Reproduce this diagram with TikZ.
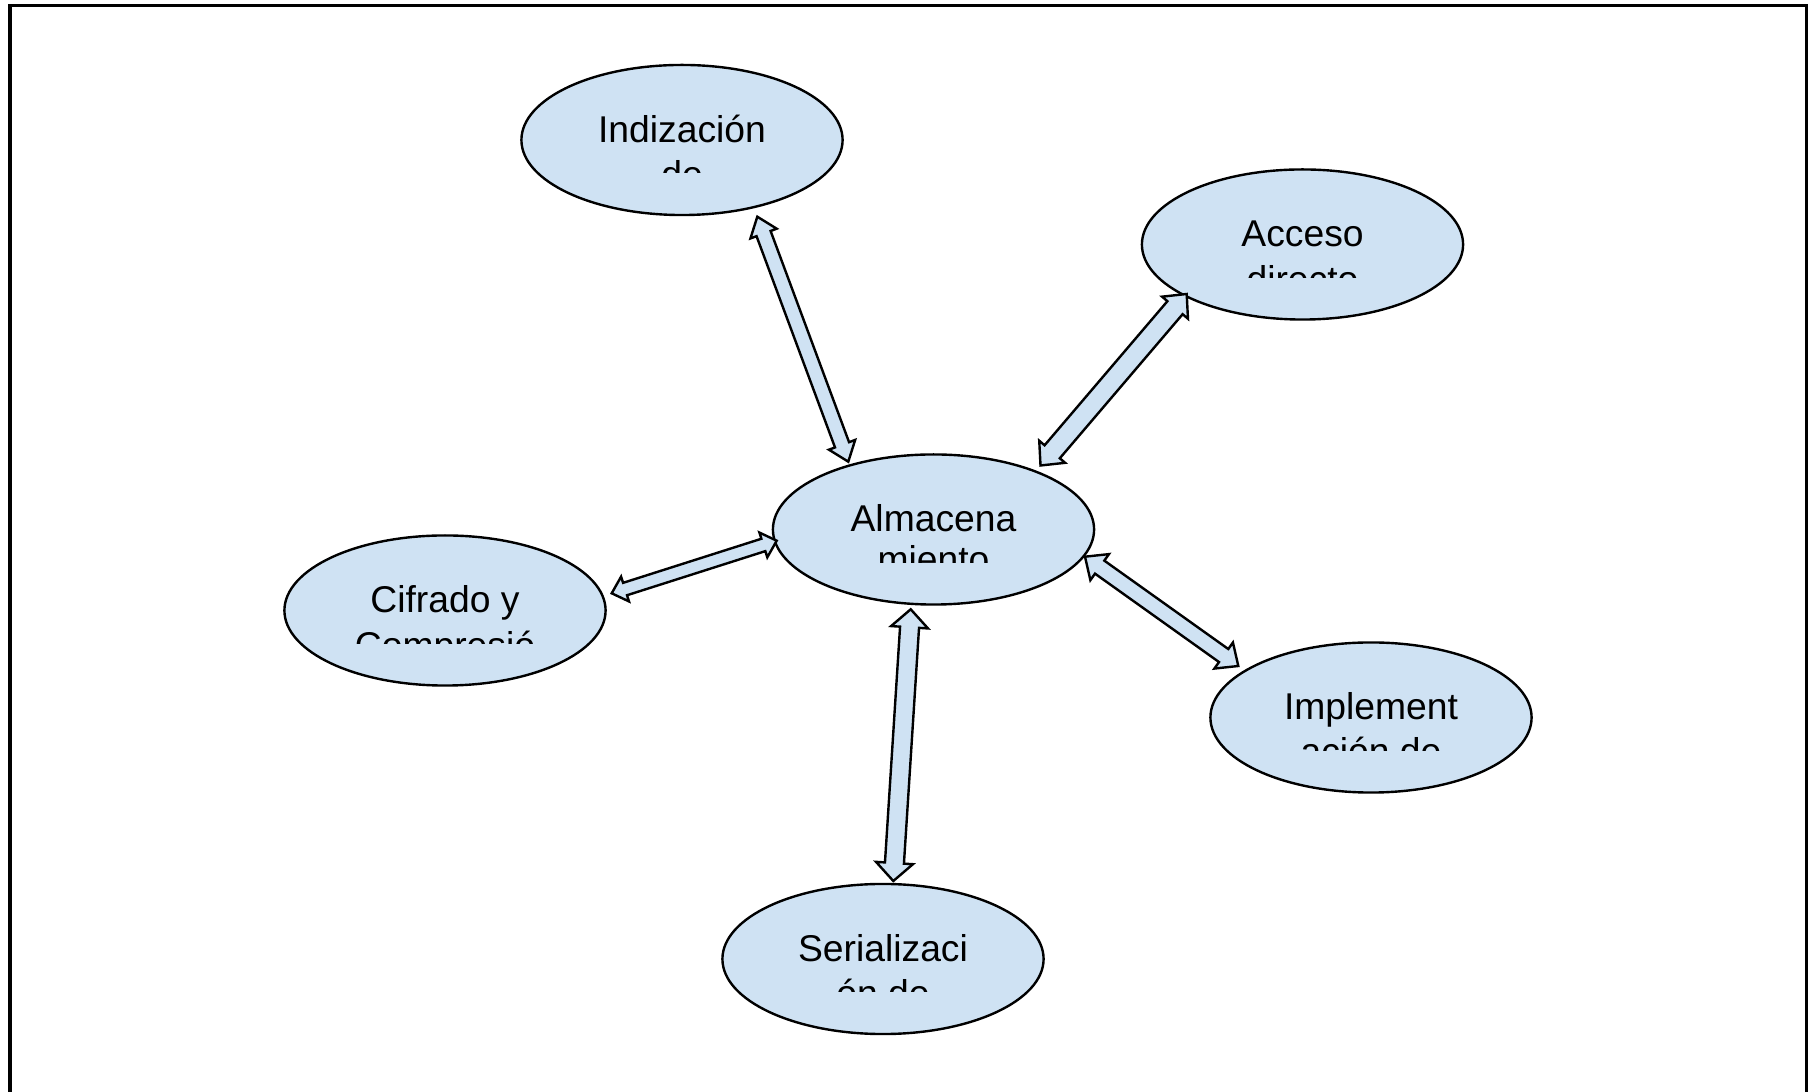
\documentclass[tikz,border=0pt]{standalone}
\usepackage{fontspec}
\setmainfont{Liberation Sans}
\usetikzlibrary{calc,shapes.geometric}
\definecolor{bubble}{HTML}{CFE2F3}
\newcommand\blkarrow[5]{%
  \filldraw[arrowbox] (#1)
    -- ($(#1)!#5!(#2)!#4!90:(#2)$) -- ($(#1)!#5!(#2)!#3!90:(#2)$)
    -- ($(#2)!#5!(#1)!#3!-90:(#1)$) -- ($(#2)!#5!(#1)!#4!-90:(#1)$)
    -- (#2)
    -- ($(#2)!#5!(#1)!#4!90:(#1)$) -- ($(#2)!#5!(#1)!#3!90:(#1)$)
    -- ($(#1)!#5!(#2)!#3!-90:(#2)$) -- ($(#1)!#5!(#2)!#4!-90:(#2)$)
    -- cycle;}
\newcommand\bubbletext[4]{% name, first line, second line, second-line offset
  \begin{scope}
    \clip ($(#1)+(-155,-60)$) rectangle ($(#1)+(155,33)$);
    \node[lbl] (#1-t1) at ($(#1)+(0,2.5)$) {#2};
    \node[lbl] (#1-t2) at ($(#1)+(0,2.5+#4)$) {#3};
  \end{scope}}
\begin{document}
\begin{tikzpicture}[x=0.01cm,y=-0.01cm,
  bubble/.style={ellipse,draw=black,line width=0.024cm,fill=bubble,inner sep=0pt,
    minimum width=3.21cm,minimum height=1.50cm},
  lbl/.style={anchor=base,inner sep=0pt,font=\fontsize{10.6}{12}\selectfont},
  arrowbox/.style={draw=black,fill=bubble,line width=0.024cm,line join=miter},
  frame/.style={draw=black,line width=0.03cm}]
\useasboundingbox (0,0) rectangle (1812,1092);
\draw[frame] (10,1095) -- (10,6) -- (1806.5,6) -- (1806.5,1095);

\node[bubble] (ind) at (682,140) {};
\node[bubble] (acc) at (1302.5,244.5) {};
\node[bubble] (alm) at (933.5,529.5) {};
\node[bubble] (cif) at (445,610.5) {};
\node[bubble] (imp) at (1371,717.5) {};
\node[bubble] (ser) at (883,959) {};

\bubbletext{ind}{Indización}{de}{45}
\bubbletext{acc}{Acceso}{directo}{46}
\bubbletext{alm}{Almacena}{miento}{41}
\bubbletext{cif}{Cifrado y}{Compresió}{46}
\bubbletext{imp}{Implement}{ación de}{45}
\bubbletext{ser}{Serializaci}{ón de}{45}

\coordinate (a1s) at ($(ind)+(75.3,76.7)$);
\coordinate (a1e) at ($(alm)+(-85.2,-67.8)$);
\coordinate (a2s) at ($(acc)+(-115.8,49.5)$);
\coordinate (a2e) at ($(alm)+(107,-64)$);
\coordinate (a3s) at ($(cif)+(166.7,-17.2)$);
\coordinate (a3e) at ($(alm)+(-156.8,11.2)$);
\coordinate (a4s) at ($(imp)+(-132.7,-51.5)$);
\coordinate (a4e) at ($(alm)+(151.5,27.2)$);
\coordinate (a5s) at ($(ser)+(10.3,-78)$);
\coordinate (a5e) at ($(alm)+(-22.8,79.8)$);

\blkarrow{a1s}{a1e}{0.075cm}{0.14cm}{0.18cm}
\blkarrow{a2s}{a2e}{0.10cm}{0.17cm}{0.18cm}
\blkarrow{a3s}{a3e}{0.065cm}{0.13cm}{0.14cm}
\blkarrow{a4s}{a4e}{0.08cm}{0.16cm}{0.18cm}
\blkarrow{a5s}{a5e}{0.095cm}{0.185cm}{0.18cm}
\end{tikzpicture}
\end{document}
